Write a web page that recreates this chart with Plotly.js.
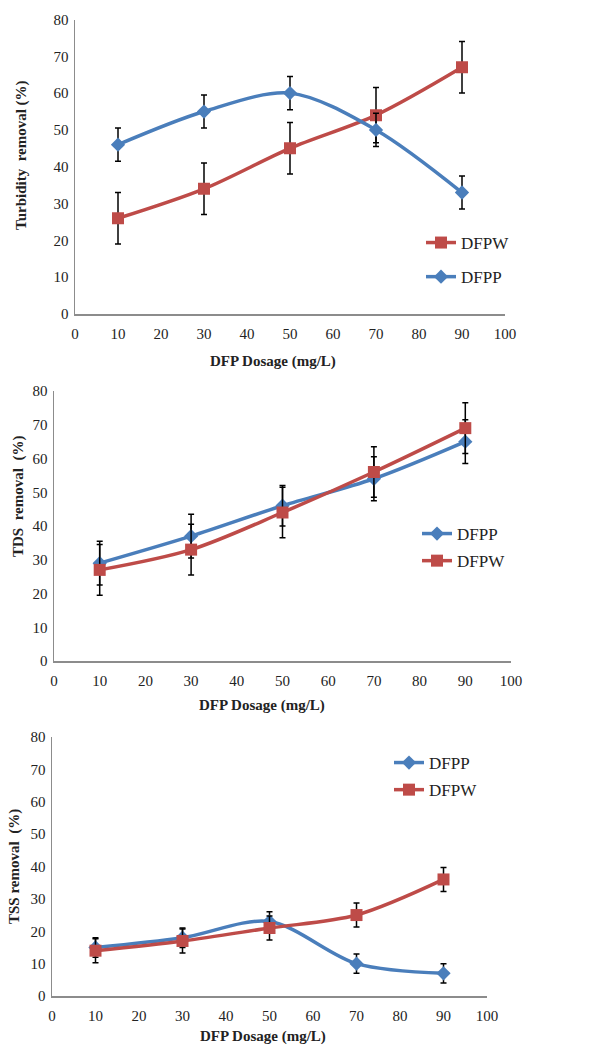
<!DOCTYPE html>
<html><head><meta charset="utf-8">
<script src="https://cdn.plot.ly/plotly-3.0.1.min.js"></script>
<style>html,body{margin:0;padding:0;background:#fff}#c{width:602px;height:1045px}</style>
</head><body><div id="c"></div>
<script>
const dosage = [10, 30, 50, 70, 90];
// Turbidity removal (%)
const turbDFPW = [26, 34, 45, 54, 67];
const turbDFPWErr = [7, 7, 7, 7.5, 7];
const turbDFPP = [46, 55, 60, 50, 33];
const turbDFPPErr = [4.5, 4.5, 4.5, 4.5, 4.5];
// TDS removal (%)
const tdsDFPP = [29, 37, 46, 54, 65];
const tdsDFPPErr = [6.5, 6.5, 6, 6.5, 6.5];
const tdsDFPW = [27, 33, 44, 56, 69];
const tdsDFPWErr = [7.5, 7.5, 7.5, 7.5, 7.5];
// TSS removal (%)
const tssDFPP = [15, 18, 23, 10, 7];
const tssDFPPErr = [3, 3, 3, 3, 3];
const tssDFPW = [14, 17, 21, 25, 36];
const tssDFPWErr = [3.7, 3.7, 3.7, 3.7, 3.7];

const blue = '#4A7EBB', red = '#BE4B48';
const serif = '"Liberation Serif"';

function tr(y, err, name, color, sym, size, xa, ya, leg, rank) {
  return {
    x: dosage, y: y, name: name, type: 'scatter', mode: 'lines+markers',
    xaxis: xa, yaxis: ya, legend: leg, legendrank: rank, legendgroup: leg + name,
    line: {color: color, width: 3.5, shape: 'spline', smoothing: 0.9},
    marker: {color: color, symbol: sym, size: size},
    error_y: {type: 'data', array: err, visible: true, color: '#000', thickness: 1.5, width: 3}
  };
}

const data = [
  tr(turbDFPW, turbDFPWErr, 'DFPW', red, 'square', 12, 'x', 'y', 'legend', 1),
  tr(turbDFPP, turbDFPPErr, 'DFPP', blue, 'diamond', 11, 'x', 'y', 'legend', 2),
  tr(tdsDFPP, tdsDFPPErr, 'DFPP', blue, 'diamond', 11, 'x2', 'y2', 'legend2', 1),
  tr(tdsDFPW, tdsDFPWErr, 'DFPW', red, 'square', 12, 'x2', 'y2', 'legend2', 2),
  tr(tssDFPP, tssDFPPErr, 'DFPP', blue, 'diamond', 11, 'x3', 'y3', 'legend3', 1),
  tr(tssDFPW, tssDFPWErr, 'DFPW', red, 'square', 12, 'x3', 'y3', 'legend3', 2)
];

function xax(dom, anchor) {
  return {domain: dom, anchor: anchor, range: [0, 100], dtick: 10, tick0: 0,
    showgrid: false, zeroline: false, showline: true, linecolor: '#8c8c8c', linewidth: 1.5,
    ticks: '', ticklabelstandoff: 5, tickfont: {family: serif, size: 15, color: '#222'}, fixedrange: true};
}
function yax(dom, anchor) {
  return {domain: dom, anchor: anchor, range: [0, 80], dtick: 10, tick0: 0,
    showgrid: false, zeroline: false, showline: true, linecolor: '#8c8c8c', linewidth: 1.5,
    ticks: '', ticklabelstandoff: 2, tickfont: {family: serif, size: 15, color: '#222'}, fixedrange: true};
}
function legend(x, y, gap) {
  return {x: x, y: y, xanchor: 'left', yanchor: 'top', bgcolor: 'rgba(0,0,0,0)',
    font: {family: serif, size: 17, color: '#222'}, tracegroupgap: gap, itemwidth: 30};
}
const W = 602, H = 1045;
const px = v => v / W, py = v => 1 - v / H;

function ann(text, x, y, rot) {
  return {text: '<b>' + text + '</b>', x: px(x), y: py(y), xref: 'paper', yref: 'paper',
    showarrow: false, textangle: rot || 0, font: {family: serif, size: 15, color: '#222'},
    xanchor: 'center', yanchor: 'middle'};
}

const layout = {
  width: W, height: H, margin: {l: 0, r: 0, t: 0, b: 0},
  paper_bgcolor: '#fff', plot_bgcolor: '#fff',
  xaxis: xax([px(75), px(505)], 'y'),
  yaxis: yax([py(314), py(19.5)], 'x'),
  xaxis2: xax([px(54), px(511)], 'y2'),
  yaxis2: yax([py(661), py(391)], 'x2'),
  xaxis3: xax([px(52), px(487)], 'y3'),
  yaxis3: yax([py(996), py(737)], 'x3'),
  legend: legend(px(421), py(225), 9),
  legend2: legend(px(417), py(516), 2),
  legend3: legend(px(389), py(745), 2),
  annotations: [
    ann('DFP Dosage (mg/L)', 273, 361),
    ann('Turbidity&nbsp; removal (%)', 21, 155, -90),
    ann('DFP Dosage (mg/L)', 262, 705),
    ann('TDS&nbsp; removal&nbsp; (%)', 18, 497, -90),
    ann('DFP Dosage (mg/L)', 263, 1036),
    ann('TSS removal&nbsp; (%)', 14, 867, -90)
  ],
  showlegend: true
};

Plotly.newPlot('c', data, layout, {displayModeBar: false, staticPlot: true});
</script></body></html>
